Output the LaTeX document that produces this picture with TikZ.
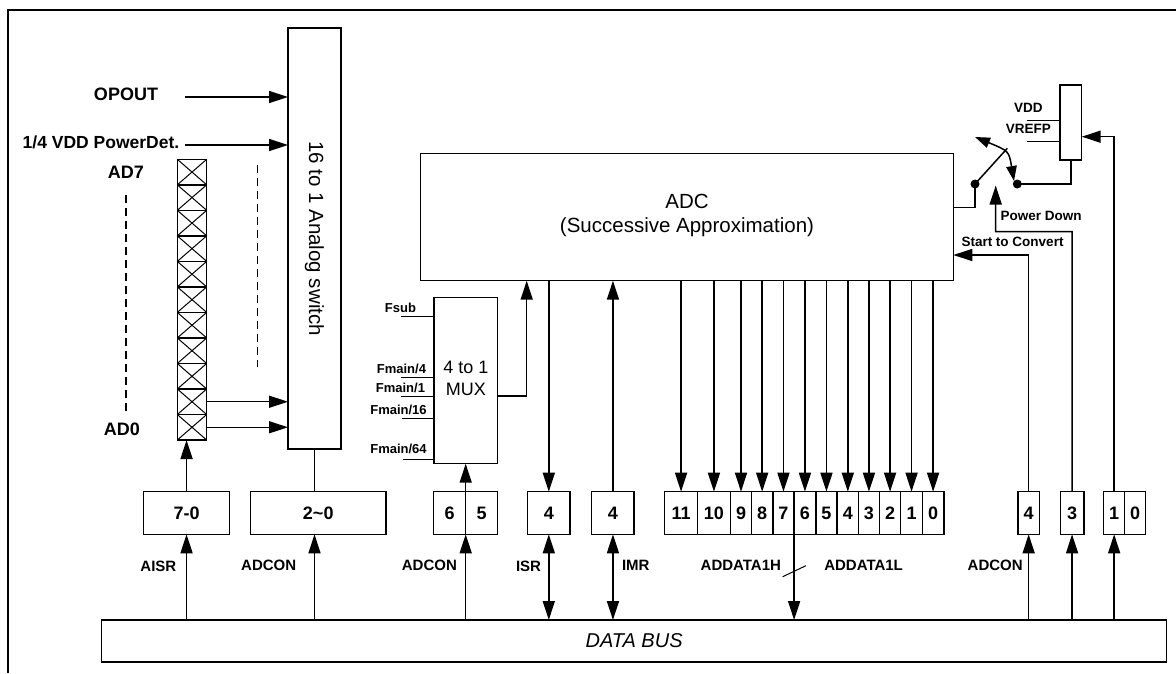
\documentclass[tikz,border=0pt]{standalone}
\usepackage{fontspec}
\setmainfont{Liberation Sans}
\usetikzlibrary{arrows.meta}
\newcommand\BX[7][]{\node[draw, rectangle, inner sep=0pt, minimum width={#5-#3}, minimum height={#6-#4}, #1] (#2) at ({(#3+#5)/2},{(#4+#6)/2}) {#7};}
\tikzset{
  arr/.style={-{Triangle[length=19pt,width=12pt]}},
  darr/.style={{Triangle[length=19pt,width=12pt]}-{Triangle[length=19pt,width=12pt]}},
  sarr/.style={{Triangle[length=15pt,width=10.5pt]}-{Triangle[length=15pt,width=10.5pt]}}}
\begin{document}
\begin{tikzpicture}[x=1pt,y=-1pt, line width=1.5pt,
  every node/.style={inner sep=0pt, outer sep=0pt},
  big/.style={font=\fontsize{18}{20}\selectfont\bfseries},
  bigr/.style={font=\fontsize{20.5}{22}\selectfont},
  med/.style={font=\fontsize{15}{17}\selectfont\bfseries},
  sml/.style={font=\fontsize{13.5}{15}\selectfont\bfseries},
  tny/.style={font=\fontsize{13}{14}\selectfont\bfseries},
  lab/.style={text height=0.72em, text depth=0pt},
  thin/.style={line width=1pt},
  dsh/.style={dash pattern=on 8pt off 5pt}]
\useasboundingbox (0,0) rectangle (1176,673);
% outer frame
\draw (8,673) -- (8,10) -- (1176,10);

% main blocks
\BX{sw}{288}{28}{341}{449}{}
\node[bigr, rotate=-90] (swt) at (sw.center) {16 to 1 Analog switch};
\BX{adc}{420.7}{153.3}{953.3}{280.7}{}
\node[bigr, lab] (adct1) at (687,205) {ADC};
\node[bigr, lab] (adct2) at (687,229) {(Successive Approximation)};
\BX{mux}{434}{297.7}{497.7}{463.7}{}
\node[bigr, lab, font=\fontsize{18}{20}\selectfont] (muxt1) at (465.8,370) {4 to 1};
\node[bigr, lab, font=\fontsize{18}{20}\selectfont] (muxt2) at (465.8,391.5) {MUX};
\BX{res}{1060}{85}{1081.7}{160}{}
\BX[font=\fontsize{20}{22}\selectfont\itshape]{bus}{101.7}{620}{1166.5}{662}{DATA BUS}

% pin column
\foreach \i in {0,...,10} {
  \node[draw, rectangle, minimum width=29.4, minimum height=25.52] (pin\i) at (192,{159.3+12.76+\i*25.52}) {};
  \draw[thin] (pin\i.north west) -- (pin\i.south east) (pin\i.north east) -- (pin\i.south west);
}

% left labels and inputs
\node[big, lab] (opout) at (126,97) {OPOUT};
\node[big, lab, font=\fontsize{17.5}{19}\selectfont\bfseries] (pdet) at (101,145) {1/4 VDD PowerDet.};
\coordinate (opS) at (185,97);
\coordinate (pdS) at (185,145);
\draw[arr] (opS) -- (opS -| sw.west);
\draw[arr] (pdS) -- (pdS -| sw.west);
\node[big, lab] (ad7) at (126,175) {AD7};
\node[big, lab] (ad0) at (122,432) {AD0};
\coordinate (dl1) at (126,195); \coordinate (dl2) at (126,412);
\coordinate (dr1) at (257.7,165); \coordinate (dr2) at (257.7,367);
\draw[dsh] (dl1) -- (dl2);
\draw[dsh] (dr1) -- (dr2);
\draw[arr] (pin9.east) -- (pin9.east -| sw.west);
\draw[arr] (pin10.east) -- (pin10.east -| sw.west);

% bottom register boxes
\BX[big]{b70}{143.5}{491.7}{229.6}{534.3}{7-0}
\BX[big]{b20}{250.7}{491.7}{385.8}{534.3}{2\char`~0}
\BX[big]{b6}{433.6}{491.7}{465.7}{534.3}{6}
\BX[big]{b5}{465.7}{491.7}{497.5}{534.3}{5}
\BX[big]{bisr}{527.4}{491.7}{570.2}{534.3}{4}
\BX[big]{bimr}{591.7}{491.7}{634.2}{534.3}{4}
\BX[big]{bit11}{664.7}{491.7}{697.4}{534.3}{11}
\BX[big]{bit10}{697.4}{491.7}{730.5}{534.3}{10}
\BX[big]{bit9}{730.5}{491.7}{751.5}{534.3}{9}
\BX[big]{bit8}{751.5}{491.7}{772.8}{534.3}{8}
\BX[big]{bit7}{772.8}{491.7}{794.1}{534.3}{7}
\BX[big]{bit6}{794.1}{491.7}{815.8}{534.3}{6}
\BX[big]{bit5}{815.8}{491.7}{837.1}{534.3}{5}
\BX[big]{bit4}{837.1}{491.7}{858.5}{534.3}{4}
\BX[big]{bit3}{858.5}{491.7}{879.4}{534.3}{3}
\BX[big]{bit2}{879.4}{491.7}{900.7}{534.3}{2}
\BX[big]{bit1}{900.7}{491.7}{922.4}{534.3}{1}
\BX[big]{bit0}{922.4}{491.7}{943.8}{534.3}{0}
\BX[big]{b4r}{1018}{491.7}{1039.3}{534.3}{4}
\BX[big]{b3r}{1060.3}{491.7}{1083.8}{534.3}{3}
\BX[big]{b1r}{1103.7}{491.7}{1124.6}{534.3}{1}
\BX[big]{b0r}{1124.6}{491.7}{1145.6}{534.3}{0}

% bottom labels
\node[med, lab] (laisr) at (158.4,568) {AISR};
\node[med, lab] (ladc1) at (268.7,567) {ADCON};
\node[med, lab] (ladc2) at (429.4,567) {ADCON};
\node[med, lab] (lisr) at (528.5,568) {ISR};
\node[med, lab] (limr) at (635.8,567) {IMR};
\node[med, lab] (lddh) at (740.8,567) {ADDATA1H};
\node[med, lab] (lddl) at (863.6,567) {ADDATA1L};
\node[med, lab] (ladc3) at (995.2,567) {ADCON};

% connections to bus
\draw[arr] (bus.north -| b70) -- (b70.south);
\draw[arr] (b70.north) -- (b70.north |- pin10.south);
\draw[arr] (bus.north -| sw.south) -- (b20.south -| sw.south);
\draw (sw.south) -- (sw.south |- b20.north);
\draw[arr] (bus.north -| b6.east) -- (b6.south east);
\draw[arr] (b6.north east) -- (b6.north east |- mux.south);
\draw[arr] (adc.south -| bisr) -- (bisr.north);
\draw[darr] (bisr.south) -- (bisr.south |- bus.north);
\draw[arr] (bimr.north) -- (bimr.north |- adc.south);
\draw[darr] (bimr.south) -- (bimr.south |- bus.north);
\foreach \n in {11,10,...,0} { \draw[arr] (adc.south -| bit\n) -- (bit\n.north); }
\draw[arr] (bit7.south east) -- (bit7.south east |- bus.north);
\coordinate (sl1) at (782.7,576.7); \coordinate (sl2) at (805.9,565.7);
\draw[thin] (sl1) -- (sl2);
\draw[arr] (bus.north -| b4r) -- (b4r.south);
\draw[arr] (bus.north -| b3r) -- (b3r.south);
\draw[arr] (bus.north -| b1r) -- (b1r.south);

% MUX inputs
\node[tny, lab, anchor=east] (fsub) at (416,309) {Fsub};
\node[tny, lab, anchor=east] (fm4) at (426,370) {Fmain/4};
\node[tny, lab, anchor=east] (fm1) at (425,389.3) {Fmain/1};
\node[tny, lab, anchor=east] (fm16) at (426.7,411) {Fmain/16};
\node[tny, lab, anchor=east] (fm64) at (426.7,450) {Fmain/64};
\coordinate (i1) at (400.7,316);
\coordinate (i2) at (401,377.7);
\coordinate (i3) at (401,396.7);
\coordinate (i4) at (401.7,418.3);
\coordinate (i5) at (402.7,459);
\foreach \c in {i1,i2,i3,i4,i5} { \draw[thin] (\c) -- (\c -| mux.west); }
\coordinate (mo) at (526.7,396);
\draw[arr] (mo -| mux.east) -- (mo) -- (mo |- adc.south);

% right side control
\coordinate (sc) at (1028.65,255);
\draw[arr] (b4r.north) -- (b4r.north |- sc) -- (sc -| adc.east);
\node[sml, lab] (lsc) at (1012.5,242.7) {Start to Convert};
\coordinate (pd1) at (1072,231.7);
\coordinate (pd2) at (995.7,231.7);
\coordinate (pdT) at (995.7,185.5);
\draw[arr] (b3r.north) -- (pd1) -- (pd2) -- (pdT);
\node[sml, lab] (lpd) at (1041,216.7) {Power Down};
\coordinate (r1) at (1114.15,136.7);
\draw[arr] (b1r.north) -- (r1) -- (r1 -| res.east);
\node[sml, lab] (lvdd) at (1028.3,109.3) {VDD};
\node[sml, lab] (lvref) at (1028.3,130.3) {VREFP};
\coordinate (vd) at (1027.3,120.3);
\coordinate (vr) at (1027.3,141);
\draw[thin] (vd) -- (vd -| res.west);
\draw[thin] (vr) -- (vr -| res.west);

% switch
\fill (975,184) circle[radius=4.5pt] coordinate (dotl);
\fill (1017.3,184) circle[radius=4.5pt] coordinate (dotr);
\coordinate (ac) at (975,207.7);
\draw (ac -| adc.east) -- (ac) -- (dotl);
\draw (res.south) -- (res.south |- dotr) -- (dotr);
\coordinate (armT) at (1007.3,148.3);
\draw (dotl) -- (armT);
\coordinate (cA) at (975,137);
\coordinate (cB) at (1014,181);
\draw[sarr] (cA) .. controls (1008.9,151) .. (cB);
\end{tikzpicture}
\end{document}
